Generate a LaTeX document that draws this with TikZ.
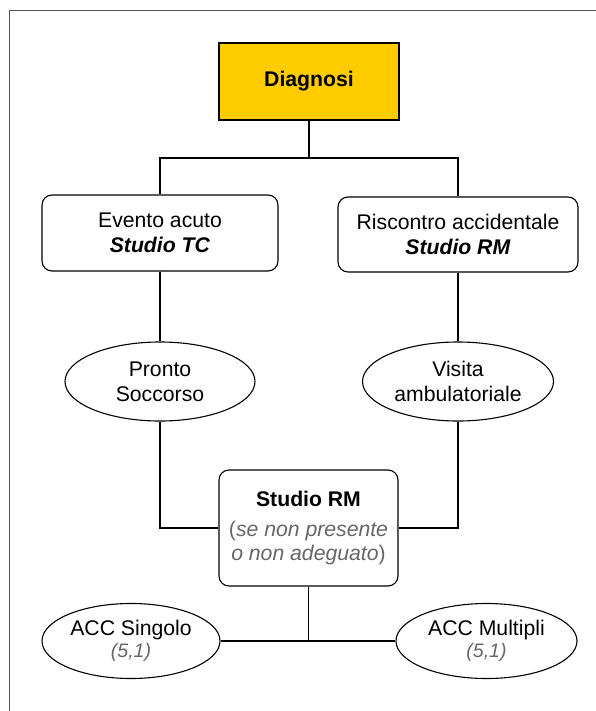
\documentclass[tikz,border=0pt]{standalone}
\usepackage{fontspec}
\setmainfont{Liberation Sans}
\usetikzlibrary{shapes.geometric}
\definecolor{diagyellow}{HTML}{FFCC00}
\definecolor{txtgray}{HTML}{666666}
\definecolor{framegray}{HTML}{555555}
\tikzset{
  base/.style={inner sep=0pt, align=center, font=\fontsize{21.2}{25}\selectfont},
  headbox/.style={base, draw=black, line width=1.8pt, fill=diagyellow, minimum width=180pt, minimum height=77pt, font=\fontsize{21.2}{25}\selectfont\bfseries},
  roundbox/.style={base, draw=black, line width=1.1pt, rounded corners=10pt},
  oval/.style={base, ellipse, draw=black, line width=1.1pt},
  conn/.style={draw=black, line width=1.9pt}
}
\begin{document}
\begin{tikzpicture}[x=1pt,y=-1pt]
\useasboundingbox (0,0) rectangle (596,711);
\draw[framegray, line width=1pt] (9.5,711) -- (9.5,10.5) -- (596,10.5);

\node[headbox] (diag) at (309,81.5) {Diagnosi};
\node[roundbox, minimum width=236pt, minimum height=76pt] (evento) at (160,233) {Evento acuto\\\textbf{\textit{Studio TC}}};
\node[roundbox, minimum width=240pt, minimum height=75pt] (risc) at (458,234.5) {Riscontro accidentale\\\textbf{\textit{Studio RM}}};
\node[oval, minimum width=190pt, minimum height=79pt] (pronto) at (160,381.5) {Pronto\\Soccorso};
\node[oval, minimum width=191pt, minimum height=79pt] (visita) at (458,381.5) {Visita\\ambulatoriale};
\node[roundbox, minimum width=179pt, minimum height=116pt] (rm) at (308.5,528) {\textbf{Studio RM}\\[5pt]{\color{txtgray}(\textit{se non presente}}\\[-1pt]{\color{txtgray}\textit{o non adeguato})}};
\node[oval, minimum width=178pt, minimum height=75pt] (sing) at (131,641) {ACC Singolo\\[-3pt]{\color{txtgray}\fontsize{19.5}{22}\selectfont\textit{(5,1)}}};
\node[oval, minimum width=181pt, minimum height=75pt] (mult) at (486.5,641) {ACC Multipli\\[-3pt]{\color{txtgray}\fontsize{19.5}{22}\selectfont\textit{(5,1)}}};

\coordinate (split) at (309,158);
\draw[conn] (diag.south) -- (split);
\draw[conn] (split) -| (evento.north);
\draw[conn] (split) -| (risc.north);
\draw[conn] (evento.south) -- (pronto.north);
\draw[conn] (risc.south) -- (visita.north);
\draw[conn] (pronto.south) |- (rm.west);
\draw[conn] (visita.south) |- (rm.east);
\draw[conn] (sing.east) -- (mult.west);
\draw[conn] (rm.south) -- (rm.south |- sing.east);
\end{tikzpicture}
\end{document}
